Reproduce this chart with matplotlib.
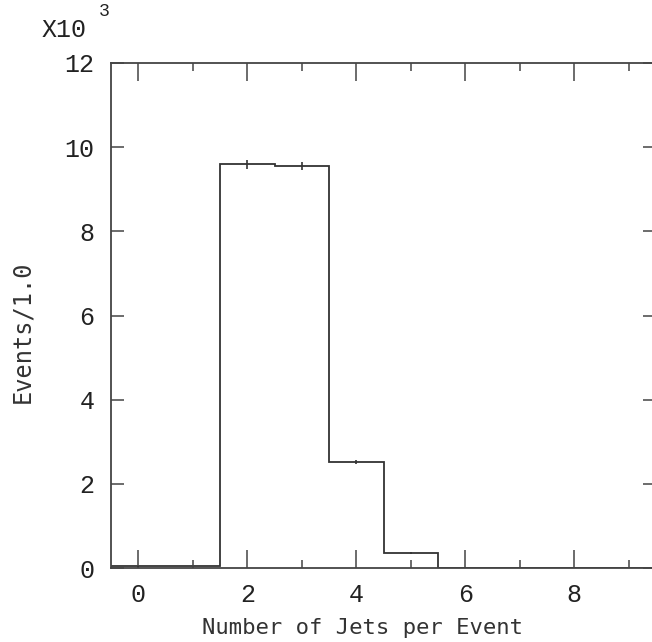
import numpy as np
import matplotlib.pyplot as plt

# jets per event histogram, counts in thousands
edges = [-0.5, 0.5, 1.5, 2.5, 3.5, 4.5, 5.5, 6.5, 7.5, 8.5, 9.5]
counts = [0.04, 0.05, 9.59, 9.56, 2.515, 0.355, 0.01, 0.002, 0.0005, 0.0001]
xticks = [0, 2, 4, 6, 8]
yticks = [0, 2, 4, 6, 8, 10, 12]

centers = [(edges[i] + edges[i + 1]) / 2 for i in range(len(counts))]
errs = [np.sqrt(c * 1000) / 1000 for c in counts]

fig = plt.figure(figsize=(6.52, 6.42), dpi=100)
ax = fig.add_axes([111 / 652, 74 / 642, 545 / 652, 505 / 642])

ax.stairs(counts, edges, color="#333333", lw=1.3)
ax.errorbar(centers, counts, yerr=errs, fmt="none", ecolor="#333333", elinewidth=1.2)

ax.set_xlim(-0.5, 9.5)
ax.set_ylim(0, 12)
ax.set_xticks(xticks)
ax.set_xticks(range(0, 10), minor=True)
ax.set_yticks(yticks)

for s in ax.spines.values():
    s.set_color("#444444")
    s.set_linewidth(1.3)

tickfont = "Liberation Mono"
ax.tick_params(axis="x", which="major", direction="in", length=13, width=1.1,
               top=True, pad=11, labelsize=18, color="#444444", labelcolor="#222222")
ax.tick_params(axis="x", which="minor", direction="in", length=5.8, width=1.1,
               top=True, color="#444444")
ax.tick_params(axis="y", which="major", direction="in", length=9.4, width=1.1,
               right=True, pad=12, labelsize=18, color="#444444", labelcolor="#222222")
for lab in ax.get_xticklabels() + ax.get_yticklabels():
    lab.set_fontfamily(tickfont)

fig.text(362 / 652, 1 - 628 / 642, "Number of Jets per Event", ha="center", va="center",
         fontsize=16, family="DejaVu Sans Mono", color="#333333")
fig.text(22 / 652, 1 - 332 / 642, "Events/1.0", ha="center", va="center", rotation=90,
         fontsize=17, family="DejaVu Sans Mono", color="#333333")
fig.text(42 / 652, 1 - 30 / 642, "X10", ha="left", va="center", fontsize=18,
         family=tickfont, color="#222222")
fig.text(99 / 652, 1 - 12 / 642, "3", ha="left", va="center", fontsize=13,
         family=tickfont, color="#222222")

plt.savefig("out.png", dpi=100)
